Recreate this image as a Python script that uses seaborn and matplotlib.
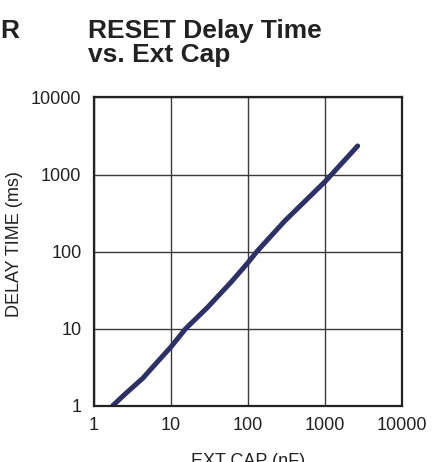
import numpy as np
import pandas as pd
import matplotlib
matplotlib.use("Agg")
import matplotlib.pyplot as plt
import seaborn as sns
from matplotlib.ticker import FixedLocator, FixedFormatter, NullLocator

# values
ext_cap_nf = [1.75, 2.5, 4.3, 6, 10, 15.5, 30, 60, 100, 130, 300, 1000, 2650]
delay_ms = [1, 1.4, 2.27, 3.3, 5.8, 10, 19, 40, 72, 100, 250, 810, 2350]
decade_ticks = [1, 10, 100, 1000, 10000]
decade_labels = ["1", "10", "100", "1000", "10000"]

df = pd.DataFrame({"cap": ext_cap_nf, "delay": delay_ms})

sns.set_style("white")
plt.rcParams['font.family'] = ['Liberation Sans', 'DejaVu Sans']

fig = plt.figure(figsize=(4.38, 4.62), dpi=100)
ax = fig.add_axes([0.2146, 0.1219, 0.918 - 0.2146, 0.789 - 0.1219])

sns.lineplot(data=df, x="cap", y="delay", ax=ax, color="#2e3166", linewidth=3.6)

ax.set_xscale("log")
ax.set_yscale("log")
ax.set_xlim(1, 10000)
ax.set_ylim(1, 10000)
ax.xaxis.set_major_locator(FixedLocator(decade_ticks))
ax.xaxis.set_major_formatter(FixedFormatter(decade_labels))
ax.yaxis.set_major_locator(FixedLocator(decade_ticks))
ax.yaxis.set_major_formatter(FixedFormatter(decade_labels))
ax.xaxis.set_minor_locator(NullLocator())
ax.yaxis.set_minor_locator(NullLocator())
ax.grid(True, color="#3a3a3a", linewidth=1.0)
ax.tick_params(length=0, labelsize=13, colors="#222222")
ax.tick_params(axis="x", pad=8)
ax.tick_params(axis="y", pad=9)
for s in ax.spines.values():
    s.set_color("#222222")
    s.set_linewidth(1.6)

ax.set_xlabel("EXT CAP (nF)", fontsize=13, color="#222222", labelpad=14)
ax.set_ylabel("DELAY TIME (ms)", fontsize=13, color="#222222")
ax.yaxis.set_label_coords(-0.2305, 0.524)

fig.text(88 / 438, 1 - 19 / 462, "RESET Delay Time\nvs. Ext Cap", fontsize=19,
         fontweight="bold", color="#222222", ha="left", va="top", linespacing=1.0)
fig.text(0.0, 1 - 19 / 462, "R", fontsize=19, fontweight="bold", color="#222222",
         ha="left", va="top")

fig.savefig("out.png", dpi=100)
